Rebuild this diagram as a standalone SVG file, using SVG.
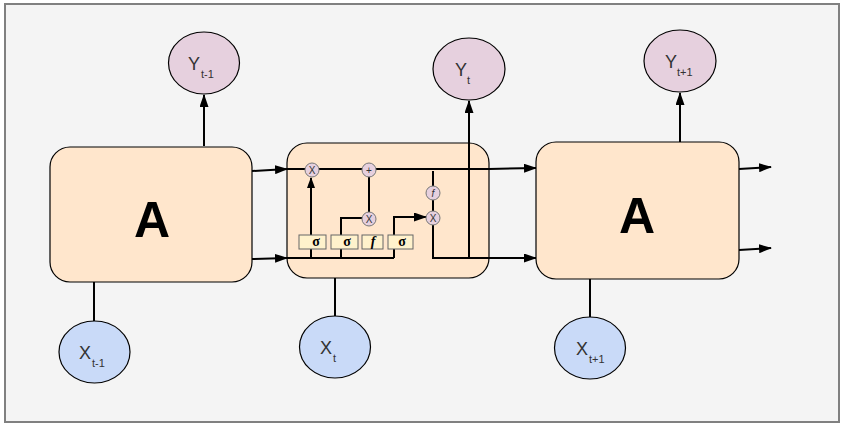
<svg xmlns="http://www.w3.org/2000/svg" width="841" height="427" viewBox="0 0 841 427">
<defs>
<marker id="ah" viewBox="0 0 13 9" refX="12" refY="4.5" markerWidth="6.5" markerHeight="4.5" markerUnits="strokeWidth" orient="auto">
<path d="M0,0 L13,4.5 L0,9 Z" fill="#000"/>
</marker>
<marker id="ahs" viewBox="0 0 11 8" refX="10" refY="4" markerWidth="5.5" markerHeight="4" markerUnits="strokeWidth" orient="auto">
<path d="M0,0 L11,4 L0,8 Z" fill="#000"/>
</marker>
</defs>
<style>
.frame{fill:#f4f4f4;stroke:#808080;stroke-width:2}
.box{fill:#ffe6cc;stroke:#000;stroke-width:1.2}
.yc{fill:#e6d0de;stroke:#000;stroke-width:1.2}
.xc{fill:#c9daf8;stroke:#000;stroke-width:1.2}
.op{fill:#e6d0de;stroke:#777;stroke-width:1}
.gate{fill:#fff2cc;stroke:#666;stroke-width:1}
.ln{fill:none;stroke:#000;stroke-width:2}
.big{font-family:"Liberation Sans",Arial,sans-serif;font-weight:bold;font-size:50px;fill:#000;text-anchor:middle}
.lab{font-family:"Liberation Sans",Arial,sans-serif;font-size:18px;fill:#333}
.sub{font-family:"Liberation Sans",Arial,sans-serif;font-size:11px;fill:#333}
.opt{font-family:"Liberation Sans",Arial,sans-serif;font-size:10px;fill:#333;text-anchor:middle}
.gt{font-family:"Liberation Serif","DejaVu Serif",serif;font-size:14px;font-weight:bold;fill:#000;text-anchor:middle}
</style>
<rect class="frame" x="5" y="4" width="834" height="418"/>

<g id="connectors">
<line class="ln" x1="94" y1="282" x2="94" y2="321"/>
<line class="ln" x1="335" y1="278" x2="335" y2="316"/>
<line class="ln" x1="590" y1="279" x2="590" y2="317"/>
<line class="ln" x1="204" y1="146" x2="204" y2="95" marker-end="url(#ah)"/>
<line class="ln" x1="680" y1="142" x2="680" y2="93" marker-end="url(#ah)"/>
<line class="ln" x1="469" y1="258" x2="469" y2="101" marker-end="url(#ah)"/>
<line class="ln" x1="252" y1="171" x2="287" y2="169" marker-end="url(#ah)"/>
<line class="ln" x1="252" y1="259" x2="287" y2="258" marker-end="url(#ah)"/>
<line class="ln" x1="739" y1="169" x2="771" y2="167" marker-end="url(#ah)"/>
<line class="ln" x1="739" y1="250" x2="771" y2="248" marker-end="url(#ah)"/>
<line class="ln" x1="489" y1="169" x2="536" y2="168" marker-end="url(#ah)"/>
<line class="ln" x1="489" y1="258" x2="536" y2="258" marker-end="url(#ah)"/>
</g>

<g id="boxA1"><rect class="box" x="50" y="147" width="202" height="135" rx="20"/><text class="big" x="152" y="237">A</text></g>
<g id="cell"><rect class="box" x="287" y="143" width="202" height="135" rx="20"/></g>
<g id="boxA2"><rect class="box" x="536" y="142" width="203" height="137" rx="20"/><text class="big" x="637" y="233">A</text></g>

<g id="cell-connectors">
<line class="ln" x1="287" y1="169" x2="305" y2="169"/>
<line class="ln" x1="319" y1="169" x2="362" y2="169"/>
<line class="ln" x1="376" y1="169" x2="489" y2="169"/>
<line class="ln" x1="287" y1="258" x2="394" y2="258"/>
<line class="ln" x1="311" y1="258" x2="311" y2="178" marker-end="url(#ahs)"/>
<polyline class="ln" points="341,258 341,218 362,218"/>
<polyline class="ln" points="394,258 394,217 426,217" marker-end="url(#ah)"/>
<line class="ln" x1="369" y1="176" x2="369" y2="212"/>
<line class="ln" x1="433" y1="171" x2="433" y2="186"/>
<line class="ln" x1="433" y1="200" x2="433" y2="211"/>
<polyline class="ln" points="433,225 433,258 489,258"/>
<line class="ln" x1="469" y1="258" x2="469" y2="143"/>
</g>

<g id="ops">
<g id="opX1"><circle class="op" cx="312" cy="170" r="7"/><text class="opt" x="312" y="174">X</text></g>
<g id="opPlus"><circle class="op" cx="369" cy="170" r="7"/><text class="opt" x="369" y="174">+</text></g>
<g id="opX2"><circle class="op" cx="369" cy="219" r="7"/><text class="opt" x="369" y="223">X</text></g>
<g id="opF"><circle class="op" cx="433" cy="193" r="7"/><text class="opt" x="433" y="197" font-style="italic">f</text></g>
<g id="opX3"><circle class="op" cx="433" cy="218" r="7"/><text class="opt" x="433" y="222">X</text></g>
</g>
<g id="gates">
<g id="g1"><rect class="gate" x="299" y="235" width="27" height="14"/><text class="gt" x="316" y="246">σ</text></g>
<g id="g2"><rect class="gate" x="331" y="235" width="27" height="14"/><text class="gt" x="347" y="246">σ</text></g>
<g id="g3"><rect class="gate" x="362" y="235" width="21" height="14"/><text class="gt" x="373" y="246" font-style="italic" font-weight="normal">f</text></g>
<g id="g4"><rect class="gate" x="388" y="235" width="25" height="14"/><text class="gt" x="402" y="246">σ</text></g>
</g>

<g id="Ytm1"><ellipse class="yc" cx="204" cy="63" rx="35.5" ry="31"/><text class="lab" x="188" y="70">Y</text><text class="sub" x="201" y="78">t-1</text></g>
<g id="Yt"><ellipse class="yc" cx="469" cy="69" rx="36" ry="31"/><text class="lab" x="455" y="76">Y</text><text class="sub" x="467" y="84">t</text></g>
<g id="Ytp1"><ellipse class="yc" cx="680" cy="61" rx="36" ry="31"/><text class="lab" x="665" y="68">Y</text><text class="sub" x="677" y="76">t+1</text></g>

<g id="Xtm1"><ellipse class="xc" cx="94.5" cy="352" rx="35.5" ry="31"/><text class="lab" x="79" y="359">X</text><text class="sub" x="92" y="367">t-1</text></g>
<g id="Xt"><ellipse class="xc" cx="335" cy="347" rx="35.5" ry="31"/><text class="lab" x="320" y="354">X</text><text class="sub" x="333" y="362">t</text></g>
<g id="Xtp1"><ellipse class="xc" cx="590" cy="348" rx="35.5" ry="31"/><text class="lab" x="576" y="355">X</text><text class="sub" x="589" y="363">t+1</text></g>
</svg>
